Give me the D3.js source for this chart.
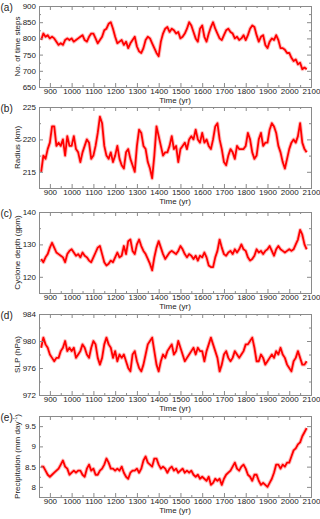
<!DOCTYPE html>
<html>
<head>
<meta charset="utf-8">
<script src="https://cdn.jsdelivr.net/npm/d3@7"></script>
<style>
  body { margin: 0; background: #fff; }
  svg text { font-family: "Liberation Sans", Arial, sans-serif; fill: #222; }
</style>
</head>
<body>
<div class="chart"></div>
<script>
// sampling grid: every 10 years, 860 .. 2080
const years = d3.range(860, 2081, 10);

const timeSteps = [
  795, 815, 805, 810, 800, 805, 800, 790, 780, 785,
  780, 795, 800, 795, 800, 790, 795, 800, 805, 810,
  795, 790, 805, 815, 815, 800, 785, 795, 805, 825,
  830, 845, 850, 830, 805, 785, 790, 795, 780, 790,
  770, 785, 795, 805, 775, 760, 755, 770, 795, 805,
  800, 785, 770, 755, 745, 790, 815, 830, 835, 820,
  830, 825, 815, 820, 800, 805, 815, 830, 850, 840,
  820, 800, 790, 830, 840, 805, 790, 815, 835, 850,
  830, 815, 800, 795, 810, 825, 830, 820, 815, 800,
  805, 795, 800, 810, 795, 810, 830, 840, 835, 810,
  790, 805, 810, 780, 770, 790, 800, 795, 810, 795,
  770, 770, 765, 755, 755, 740, 730, 735, 720, 725,
  705, 710, 705
];

const radius = [
  215, 217.5, 217, 218.5, 219.5, 222, 222, 219, 219.5, 219,
  220, 217.5, 220.5, 219, 219, 220.5, 218.5, 218, 216.5, 218,
  219, 220, 219.5, 217, 217.5, 219, 221, 223.5, 222.5, 219,
  217.5, 217, 218, 216.5, 217.5, 219, 217, 216, 215.5, 218,
  218.5, 217, 216, 215, 219, 221.5, 221, 219, 218.5, 216.5,
  215.5, 214, 217.5, 222, 220.5, 219, 217.5, 218, 218, 219,
  220.5, 218.5, 219, 216.5, 218.5, 219, 219.5, 218.5, 220, 220.5,
  220, 221.5, 220, 219.5, 221, 219.5, 220, 219, 218.5, 220,
  222, 222.5, 220, 218.5, 216.5, 216, 217.5, 218.5, 218, 217,
  219, 218.5, 218.5, 218.5, 219, 221, 220, 218, 217, 217.5,
  220, 221, 219, 219.5, 219.5, 221.5, 222.5, 222, 221, 219,
  218, 216.5, 215.5, 217, 218.5, 219.5, 220, 219.5, 220.5, 222.5,
  219.5, 218.5, 218
];

const depth = [
  125.5, 124.5, 126, 127, 129, 130.5, 129, 127.5, 127, 126.5,
  126, 124.5, 127, 128, 128.5, 127.5, 126.5, 127, 126, 127.5,
  126.5, 126, 125, 124.5, 126, 127.5, 129, 129.5, 127, 124.5,
  123.5, 124, 125, 124.5, 126, 127.5, 126, 126.5, 129.5, 127,
  131, 131.5, 128, 127, 130, 131.5, 129.5, 128, 127, 125.5,
  124, 122, 126, 129, 131, 129, 127, 125.5, 126.5, 127.5,
  128, 127.5, 127, 128, 129.5, 128.5, 127, 126, 127, 126.5,
  125.5, 126.5, 125, 126.5, 126, 127.5, 126, 123.5, 123, 123,
  126, 128, 131.5, 129, 127, 126.5, 127.5, 128, 127, 128.5,
  127.5, 128.5, 130, 128.5, 128, 126, 125, 125.5, 126.5, 128.5,
  127.5, 128, 127, 128, 128.5, 129.5, 128, 126.5, 128.5, 129.5,
  128.5, 128, 127.5, 128, 128.5, 128, 128.5, 130, 131.5, 134.5,
  133, 130, 128.5
];

const slp = [
  979, 980.5, 979.5, 979, 978, 977.5, 977, 977.5, 977.5, 978.5,
  979, 980, 978.5, 979, 978.5, 979, 977.5, 978, 978.5, 979.5,
  979, 978, 977.5, 979, 980, 979.5, 977.5, 976.5, 977.5, 979.5,
  980.5, 979.5, 979, 977.5, 978.5, 977, 978, 977.5, 978, 977,
  976, 975.5, 978, 978.5, 977, 976, 975.5, 976.5, 978, 979.5,
  980, 980.5, 978.5, 976.5, 975.5, 977, 978, 977.5, 978.5, 979,
  979.5, 978, 978.5, 980, 979, 978, 977, 977.5, 978, 978.5,
  979, 978, 979, 978.5, 978.5, 977, 978.5, 979.5, 980.5, 979.5,
  978.5, 977.5, 975.5, 976.5, 978, 978.5, 977.5, 977, 977.5, 978.5,
  978, 977.5, 978, 978.5, 979.5, 979.5, 980, 980.5, 979, 977,
  977, 978, 977.5, 976.5, 977, 977.5, 978, 977.5, 978.5, 978,
  979, 978, 977.5, 976.5, 976, 975.5, 977, 977.5, 978.5, 977.5,
  976.5, 976.5, 977
];

const precip = [
  8.5, 8.5, 8.4, 8.3, 8.25, 8.3, 8.35, 8.4, 8.45, 8.55,
  8.65, 8.5, 8.45, 8.3, 8.35, 8.4, 8.35, 8.4, 8.4, 8.3,
  8.25, 8.45, 8.55, 8.4, 8.45, 8.3, 8.3, 8.4, 8.45, 8.55,
  8.7, 8.6, 8.45, 8.45, 8.4, 8.45, 8.4, 8.5, 8.35, 8.25,
  8.2, 8.35, 8.4, 8.4, 8.45, 8.35, 8.45, 8.65, 8.75, 8.6,
  8.55, 8.5, 8.7, 8.7, 8.55, 8.45, 8.5, 8.45, 8.35, 8.45,
  8.5, 8.4, 8.45, 8.35, 8.4, 8.45, 8.35, 8.4, 8.35, 8.4,
  8.3, 8.25, 8.3, 8.2, 8.25, 8.2, 8.15, 8.25, 8.05, 8.1,
  8.2, 8.15, 8.2, 8.05, 8.2, 8.3, 8.35, 8.4, 8.5, 8.6,
  8.45, 8.4, 8.5, 8.55, 8.45, 8.3, 8.25, 8.15, 8.3, 8.3,
  8.15, 8.05, 8.1, 8.05, 8.0, 8.1, 8.2, 8.35, 8.55, 8.55,
  8.45, 8.55, 8.5, 8.6, 8.6, 8.75, 8.9, 8.95, 9.05, 9.1,
  9.25, 9.35, 9.45
];

const xTicks = [900, 1000, 1100, 1200, 1300, 1400, 1500, 1600, 1700, 1800, 1900, 2000, 2100];

const panels = [
  { tag: "(a)", label: "No. of time steps", values: timeSteps, domain: [650, 900],
    ticks: [650, 700, 750, 800, 850, 900], minor: 25 },
  { tag: "(b)", label: "Radius (km)", values: radius, domain: [212.5, 225],
    ticks: [215, 220, 225], minor: 2.5 },
  { tag: "(c)", label: "Cyclone depth (gpm)", values: depth, domain: [115, 140],
    ticks: [120, 130, 140], minor: 5 },
  { tag: "(d)", label: "SLP (hPa)", values: slp, domain: [972, 984],
    ticks: [972, 976, 980, 984], minor: 2 },
  { tag: "(e)", label: "Precipitation (mm day", sup: "-1", values: precip, domain: [7.75, 9.75],
    ticks: [8, 8.5, 9, 9.5], minor: 0.25 }
];

const W = 320, H = 519;
const left = 39, right = 311;
const tops = [6, 107, 212, 314, 416];
const ph = 81;
const frame = "#8a8a8a";

const svg = d3.select(".chart").append("svg")
  .attr("width", W).attr("height", H);

const x = d3.scaleLinear().domain([850, 2100]).range([left, right]);
const xMinor = d3.range(850, 2101, 50).filter(v => v % 100 !== 0);

panels.forEach((p, i) => {
  const top = tops[i], bottom = top + ph;
  const y = d3.scaleLinear().domain(p.domain).range([bottom, top]);
  const yMinor = d3.range(p.domain[0], p.domain[1] + 1e-9, p.minor)
    .filter(v => !p.ticks.some(t => Math.abs(t - v) < 1e-9));

  const g = svg.append("g");

  // line (soft halo + core to mimic the fuzzy annual trace)
  const line = d3.line().x((d, k) => x(years[k])).y(d => y(d));
  g.append("path").datum(p.values)
    .attr("d", line).attr("fill", "none")
    .attr("stroke", "#ff2020").attr("stroke-opacity", 0.3)
    .attr("stroke-width", 3.8).attr("stroke-linejoin", "round");
  g.append("path").datum(p.values)
    .attr("d", line).attr("fill", "none")
    .attr("stroke", "#ff0000").attr("stroke-width", 1.8)
    .attr("stroke-linejoin", "round");

  // axes: ticks pointing inward
  g.append("g").attr("transform", `translate(0,${bottom})`)
    .call(d3.axisBottom(x).tickValues(xTicks).tickSize(-4).tickPadding(1.5).tickFormat(d3.format("d")));
  g.append("g").attr("transform", `translate(0,${bottom})`)
    .call(d3.axisBottom(x).tickValues(xMinor).tickSize(-2).tickFormat(""));
  g.append("g").attr("transform", `translate(0,${top})`)
    .call(d3.axisTop(x).tickValues(xTicks).tickSize(-4).tickFormat(""));
  g.append("g").attr("transform", `translate(0,${top})`)
    .call(d3.axisTop(x).tickValues(xMinor).tickSize(-2).tickFormat(""));

  g.append("g").attr("transform", `translate(${left},0)`)
    .call(d3.axisLeft(y).tickValues(p.ticks).tickSize(-4).tickPadding(3).tickFormat(d => d));
  g.append("g").attr("transform", `translate(${left},0)`)
    .call(d3.axisLeft(y).tickValues(yMinor).tickSize(-2).tickFormat(""));
  g.append("g").attr("transform", `translate(${right},0)`)
    .call(d3.axisRight(y).tickValues(p.ticks).tickSize(-4).tickFormat(""));
  g.append("g").attr("transform", `translate(${right},0)`)
    .call(d3.axisRight(y).tickValues(yMinor).tickSize(-2).tickFormat(""));

  g.selectAll(".domain").attr("stroke", frame).attr("stroke-width", 1);
  g.selectAll(".tick line").attr("stroke", frame);
  g.selectAll(".tick text").style("font-size", "8px").attr("fill", "#222");

  // x title
  g.append("text")
    .attr("x", (left + right) / 2).attr("y", bottom + 15.5)
    .attr("text-anchor", "middle").style("font-size", "8px")
    .text("Time (yr)");

  // y title
  const yt = g.append("text")
    .attr("transform", `translate(20,${(top + bottom) / 2}) rotate(-90)`)
    .attr("text-anchor", "middle").style("font-size", "8px")
    .text(p.label);
  if (p.sup) {
    yt.append("tspan").attr("baseline-shift", "super").style("font-size", "5.5px").text(p.sup);
    yt.append("tspan").text(")");
  }

  // panel tag
  g.append("text")
    .attr("x", 0.5).attr("y", top + 4.5)
    .style("font-size", "10px")
    .text(p.tag);
});
</script>
</body>
</html>
